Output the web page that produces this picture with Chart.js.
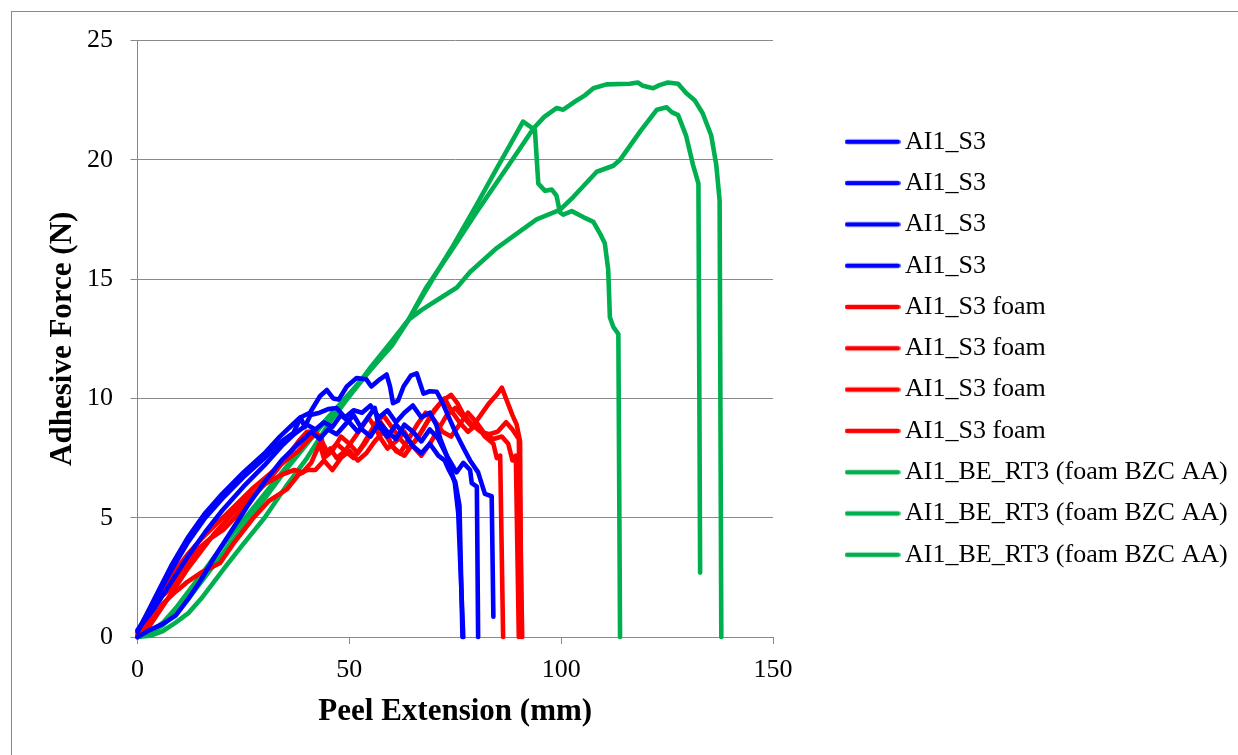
<!DOCTYPE html>
<html>
<head>
<meta charset="utf-8">
<script src="https://cdn.jsdelivr.net/npm/chart.js@4/dist/chart.umd.min.js"></script>
<style>
  html, body { margin: 0; padding: 0; background: #ffffff; }
  #wrap { position: relative; width: 1238px; height: 755px; }
</style>
</head>
<body>
<div id="wrap"><canvas id="peel" width="1238" height="755"></canvas></div>
<script>
// Peel test curves: [extension (mm), force (N)]
const seriesNames = ['AI1_S3', 'AI1_S3 foam', 'AI1_BE_RT3 (foam BZC AA)'];
const xTicks = [0, 50, 100, 150];
const yTicks = [0, 5, 10, 15, 20, 25];

const ai1S3_a = [[0,0.2],[4,1.6],[8,3.0],[12,4.2],[16,5.2],[20,6.0],[25,6.9],[30,7.7],[33.6,8.4],[36,8.8],[38.4,9.2],[40.7,9.4],[43.1,10.1],[44.7,10.35],[46.2,10.0],[47.5,9.95],[49.4,10.5],[51.7,10.85],[54,10.8],[55.2,10.5],[57.2,10.8],[58.8,11.0],[59.6,10.5],[60.3,9.8],[61.5,9.9],[62.8,10.5],[64.5,10.95],[65.9,11.05],[67.5,10.2],[69,10.3],[70.6,10.28],[71.8,9.9],[73,9.4],[75,8.6],[77,7.9],[78.5,7.4],[80.4,6.9],[81.2,6.45],[82,6.0],[83.6,5.9],[84,0.85]];
const ai1S3_b = [[0,0.25],[4,1.5],[8,2.8],[12,4.0],[16,5.0],[20,5.8],[25,6.7],[30,7.5],[34,8.2],[36.8,8.55],[38.5,9.2],[39.5,8.8],[40.8,9.3],[43,9.4],[45,9.55],[47,9.6],[49,9.2],[51,9.5],[53,9.4],[55,9.7],[57,9.2],[59,9.5],[61,9.0],[63,9.4],[65,9.7],[67,9.2],[69,9.4],[70.5,8.9],[71.5,8.3],[73,7.6],[74.9,6.45],[75.7,5.2],[76.9,0]];
const ai1S3_c = [[0,0],[3,0.3],[6,0.55],[9,0.9],[12,1.6],[15,2.4],[18,3.3],[22,4.4],[26,5.5],[30,6.5],[34,7.4],[38,8.1],[41,8.6],[43,8.3],[45,8.7],[47,8.5],[49,8.9],[51,9.3],[53,8.7],[55,8.4],[57,9.0],[59,8.6],[61,8.3],[63,8.9],[65,8.6],[67,8.2],[69,8.7],[71,8.3],[73,7.6],[75.3,6.9],[76.9,7.3],[78.5,7.0],[78.9,6.45],[80.1,6.3],[80.4,0]];
const ai1S3_d = [[0,0.3],[4,1.2],[8,2.3],[12,3.4],[16,4.4],[20,5.3],[25,6.3],[30,7.2],[34,8.0],[37,8.5],[40,8.9],[42,8.7],[44,9.0],[46,8.8],[48,9.3],[50,9.0],[52,8.6],[54,9.1],[56,9.6],[57,8.8],[59,8.4],[61,8.9],[63,8.5],[65,8.0],[67,7.7],[69,8.1],[71,7.6],[72.5,7.4],[73.5,7.0],[75,6.5],[76,5.5],[76.7,0]];

const foam_a = [[0,0.1],[3,1.0],[5,1.6],[7.7,2.0],[10,2.7],[14,3.65],[17,4.1],[20.3,4.5],[24,5.2],[27.4,5.9],[30,6.4],[32.9,7.0],[35,7.5],[38,8.2],[40,8.6],[42,8.6],[43.5,8.3],[44,7.6],[45.5,7.9],[47,7.5],[49,7.8],[51,8.3],[53,8.8],[54.5,9.2],[56,8.8],[57.5,8.3],[59,7.9],[61,8.2],[63,8.6],[65,8.0],[67,7.6],[69,8.1],[71,8.7],[73,9.3],[75,9.6],[77,9.2],[79,8.8],[81,9.3],[83,9.8],[85,10.2],[86,10.45],[87.4,9.8],[88.5,9.3],[89.5,8.9],[90.3,8.2],[90.6,0]];
const foam_b = [[0,0.05],[3,0.6],[6,1.4],[9,1.9],[11.7,2.3],[15,2.7],[19.5,3.1],[23,4.0],[27.4,5.0],[31,5.7],[35.3,6.2],[38,6.8],[40,7.0],[42,7.0],[44,7.4],[46,7.0],[48,7.5],[50,7.8],[52,7.4],[54,7.7],[56,8.2],[58,8.6],[59.5,8.2],[61,7.8],[63,7.6],[65,8.1],[67,8.6],[69,9.2],[71,9.7],[72.5,10.0],[74,9.5],[76,9.0],[78,8.6],[80,8.9],[82,8.4],[84,8.1],[84.8,7.5],[85.6,7.6],[86.3,0]];
const foam_c = [[0,0],[3,0.9],[6,1.9],[9,2.8],[12,3.5],[15,4.1],[19,4.8],[23,5.5],[27,6.2],[31,6.8],[35,7.4],[38,7.8],[40,8.2],[42,8.5],[43.5,8.2],[45,7.7],[47,8.1],[49,7.8],[51,7.5],[53,8.0],[55,8.6],[57,9.1],[58.5,8.7],[60,8.0],[62,7.7],[64,8.3],[66,8.9],[68,9.4],[70,9.1],[72,8.6],[74,8.4],[76,8.9],[78,9.4],[80,9.0],[82,8.5],[84,8.3],[86,8.4],[87.5,8.1],[88.5,7.4],[89.3,7.6],[90,0]];
const foam_d = [[0,0],[3,0.5],[6,1.3],[9,2.1],[12,2.9],[15,3.6],[18,4.3],[22,5.1],[26,5.8],[30,6.4],[34,6.8],[37,7.0],[39,6.9],[41,7.3],[43,8.1],[44,7.5],[46,7.8],[48,8.4],[50,8.1],[52,7.7],[54,8.2],[56,8.9],[58,9.3],[60,8.8],[62,8.3],[64,7.9],[66,8.3],[68,8.9],[70,9.5],[72,9.9],[74,10.15],[75.5,9.8],[77,9.3],[79,8.9],[81,8.6],[83,8.5],[85,8.6],[87,9.0],[88.5,8.7],[90,8.3],[90.8,0]];

const bzc_a = [[0,0],[3,0.15],[6,0.5],[9,1.0],[12,1.6],[15,2.3],[18,3.0],[21,3.7],[25,4.6],[30,5.8],[35,7.0],[40,8.1],[45,9.2],[50,10.1],[55,11.2],[60,12.3],[64,13.3],[67,14.2],[70,15.1],[74.5,16.4],[80,18.1],[85,19.7],[88,20.65],[91,21.6],[93.8,21.25],[94.6,19.0],[96.2,18.7],[97.8,18.75],[98.9,18.5],[99.7,17.8],[100.5,17.7],[102.5,17.85],[105.2,17.6],[107.6,17.4],[109.2,16.9],[110.3,16.5],[111.1,15.4],[111.5,13.4],[112.3,13.0],[113.5,12.7],[113.9,0]];
const bzc_b = [[0,0],[3,0.2],[6,0.6],[9,1.2],[12,1.9],[15,2.6],[20,3.8],[25,4.9],[30,6.0],[35,7.1],[40,8.2],[45,9.2],[50,10.2],[55,11.2],[60,12.2],[64,13.3],[68,14.6],[74.5,16.3],[80,17.8],[85,19.1],[90,20.4],[93.4,21.3],[96,21.8],[98.9,22.17],[100.5,22.1],[102.9,22.4],[105.6,22.7],[107.6,23.0],[110.7,23.16],[116.2,23.19],[118.1,23.24],[119.3,23.1],[121.7,23.0],[123.2,23.13],[125.2,23.24],[127.6,23.19],[129.5,22.8],[131.5,22.5],[133.4,21.95],[135.4,21.03],[136.6,19.8],[137.4,18.3],[137.8,0]];
const bzc_c = [[0,0],[3,0.05],[6,0.25],[9,0.6],[12,1.0],[15,1.6],[18,2.3],[21,3.0],[25,3.9],[30,5.0],[35,6.3],[40,7.5],[45,8.9],[50,10.1],[55,11.3],[60,12.4],[64,13.3],[67,13.7],[71.4,14.2],[75.4,14.65],[78.5,15.3],[84.8,16.3],[88.7,16.8],[94.2,17.5],[99.7,17.9],[102.9,18.45],[108.4,19.5],[112.3,19.75],[113.9,20.0],[118.7,21.2],[122.6,22.1],[124.9,22.2],[126.1,22.0],[127.6,21.87],[129.5,21.0],[131.1,19.8],[132.4,19.0],[132.8,2.7]];

const BLUE = '#0000ff', RED = '#ff0000', GREEN = '#00b050';
const GRID = '#898989';
const SERIF = "'Liberation Serif', 'Times New Roman', serif";
const LINE_W = 4.6;

// legend swatch: short thick line with round ends
function swatch(color) {
  const c = document.createElement('canvas');
  c.width = 56; c.height = 8;
  const g = c.getContext('2d');
  g.strokeStyle = color; g.lineWidth = LINE_W; g.lineCap = 'round';
  g.beginPath(); g.moveTo(2.5, 4); g.lineTo(53.5, 4); g.stroke();
  return c;
}

function series(label, pts, color) {
  return {
    label: label,
    data: pts.map(p => ({x: p[0], y: p[1]})),
    borderColor: color,
    backgroundColor: color,
    borderWidth: LINE_W,
    borderCapStyle: 'round',
    borderJoinStyle: 'round',
    showLine: true,
    pointRadius: 0,
    pointHoverRadius: 0,
    pointStyle: swatch(color),
    tension: 0,
    clip: 4
  };
}

const datasets = [
  series(seriesNames[0], ai1S3_a, BLUE),
  series(seriesNames[0], ai1S3_b, BLUE),
  series(seriesNames[0], ai1S3_c, BLUE),
  series(seriesNames[0], ai1S3_d, BLUE),
  series(seriesNames[1], foam_a, RED),
  series(seriesNames[1], foam_b, RED),
  series(seriesNames[1], foam_c, RED),
  series(seriesNames[1], foam_d, RED),
  series(seriesNames[2], bzc_a, GREEN),
  series(seriesNames[2], bzc_b, GREEN),
  series(seriesNames[2], bzc_c, GREEN)
];

// outer frame (top and left edges) and legend placement
const framePlugin = {
  id: 'frame',
  beforeDraw(chart) {
    const ctx = chart.ctx;
    ctx.save();
    ctx.fillStyle = GRID;
    ctx.fillRect(11, 11, chart.width - 11, 1);
    ctx.fillRect(11, 11, 1, chart.height - 11);
    ctx.restore();
  },
  afterLayout(chart) {
    const lg = chart.legend;
    if (!lg) return;
    const w = lg.right - lg.left;
    lg.left = 837.7; lg.right = lg.left + w; lg.width = w;
    lg.top = 113.5; lg.bottom = chart.height; lg.height = lg.bottom - lg.top;
  }
};

new Chart(document.getElementById('peel'), {
  type: 'scatter',
  data: { datasets: datasets },
  plugins: [framePlugin],
  options: {
    responsive: false,
    animation: false,
    events: [],
    layout: { padding: { left: 0, top: 40.5, right: 465, bottom: 0 } },
    plugins: {
      tooltip: { enabled: false },
      legend: {
        position: 'chartArea',
        align: 'start',
        labels: {
          usePointStyle: true,
          pointStyleWidth: 39,
          padding: 15.3,
          color: '#000000',
          font: { family: SERIF, size: 26 }
        }
      }
    },
    scales: {
      x: {
        type: 'linear',
        min: 0, max: 150,
        afterBuildTicks: (s) => { s.ticks = xTicks.map(v => ({value: v})); },
        afterFit: (s) => { s.height = 118; },
        ticks: { color: '#000000', padding: 11, font: { family: SERIF, size: 26 } },
        grid: { drawOnChartArea: false, drawTicks: true, tickLength: 7, color: GRID, lineWidth: 1 },
        border: { display: true, color: GRID, width: 1 },
        title: {
          display: true, text: 'Peel Extension (mm)', color: '#000000',
          font: { family: SERIF, size: 31, weight: 'bold' },
          padding: { top: 0, bottom: 24.4 }
        }
      },
      y: {
        type: 'linear',
        min: 0, max: 25,
        afterBuildTicks: (s) => { s.ticks = yTicks.map(v => ({value: v})); },
        afterFit: (s) => { s.width = 137.5; },
        ticks: { color: '#000000', padding: 17.5, font: { family: SERIF, size: 26 } },
        grid: { drawOnChartArea: true, drawTicks: true, tickLength: 7, color: GRID, lineWidth: 1 },
        border: { display: true, color: GRID, width: 1 },
        title: {
          display: true, text: 'Adhesive Force (N)', color: '#000000',
          font: { family: SERIF, size: 31, weight: 'bold' },
          padding: { top: 44.4, bottom: 0 }
        }
      }
    }
  }
});
</script>
</body>
</html>
